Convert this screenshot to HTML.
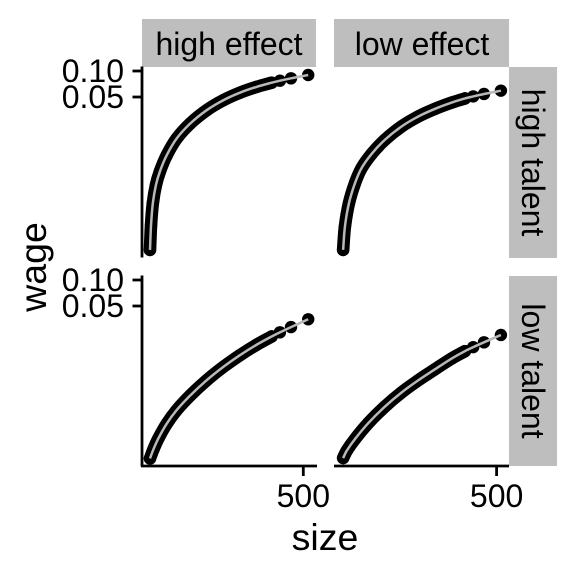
<!DOCTYPE html>
<html>
<head>
<meta charset="utf-8">
<title>Wage by size, talent and effect</title>
<style>
html,body{margin:0;padding:0;background:#fff;}
svg{display:block;}
text{font-family:"Liberation Sans",Arial,sans-serif;fill:#000;}
</style>
</head>
<body>
<svg id="chart" xmlns="http://www.w3.org/2000/svg" width="576" height="576" viewBox="0 0 576 576">
  <rect x="0" y="0" width="576" height="576" fill="#fff"/>
  <rect x="142" y="19" width="174" height="48" fill="#bebebe"/>
  <rect x="334" y="19" width="175" height="48" fill="#bebebe"/>
  <rect x="509" y="67" width="48" height="191" fill="#bebebe"/>
  <rect x="509" y="276" width="48" height="190" fill="#bebebe"/>
  <text x="229" y="55" font-size="32" text-anchor="middle">high effect</text>
  <text x="422" y="55" font-size="32" text-anchor="middle">low effect</text>
  <text transform="translate(522,162.5) rotate(90)" font-size="32" text-anchor="middle">high talent</text>
  <text transform="translate(522,371) rotate(90)" font-size="32" text-anchor="middle">low talent</text>
  <text x="325" y="550" font-size="37.5" text-anchor="middle">size</text>
  <text transform="translate(46,267) rotate(-90)" font-size="37.5" text-anchor="middle">wage</text>
  <g id="marks"></g>
  <g id="axes"></g>
</svg>
<script>
var yTickValues = [0.10, 0.05];
var yTickLabels = ["0.10", "0.05"];
var xTickValues = [500];
var xTickLabels = ["500"];

var sizeHighHigh = [516, 460, 424, 397, 348, 294, 240, 186, 132, 88, 56, 34, 21, 11, 5, 1.6];
var wageHighHigh = [0.0899, 0.0823, 0.0772, 0.0732, 0.0655, 0.0561, 0.0459, 0.0352, 0.0246, 0.0165, 0.0106, 0.0069, 0.0048, 0.00297, 0.00165, 0.00085];

var sizeLowHigh = [514, 459, 424, 397, 354, 300, 245, 191, 137, 94, 61, 40, 20, 7, 1];
var wageLowHigh = [0.0592, 0.0542, 0.0508, 0.0481, 0.0431, 0.0365, 0.0297, 0.0228, 0.0160, 0.0110, 0.00752, 0.00508, 0.00295, 0.00159, 0.00085];

var sizeHighLow = [516, 460, 424, 397, 348, 294, 240, 186, 132, 88, 56, 29, 12.5, 1.6];
var wageHighLow = [0.0351, 0.0285, 0.0248, 0.0222, 0.0178, 0.01348, 0.00987, 0.00692, 0.00459, 0.00311, 0.00217, 0.00147, 0.00109, 0.00086];

var sizeLowLow = [514, 459, 424, 397, 354, 300, 245, 191, 137, 83, 40, 13, 1];
var wageLowLow = [0.0231, 0.0190, 0.0167, 0.0150, 0.01234, 0.00928, 0.00689, 0.00499, 0.00343, 0.00221, 0.00145, 0.00106, 0.00087];

var NS = 'http://www.w3.org/2000/svg';

function xAxis(size, col) {
  return 149.5 + col * 193.3 + size * 0.3076;
}
function yAxis(wage, row) {
  return 71 + row * 209 - (Math.log(wage) / Math.LN10 + 1) * 86.4;
}
function tangent(a, b) {
  var dx = b[0] - a[0];
  var dy = b[1] - a[1];
  var len = Math.sqrt(dx * dx + dy * dy) || 1;
  return [dx / len, dy / len];
}
function smoothPath(pts) {
  var d = 'M' + pts[0][0].toFixed(2) + ' ' + pts[0][1].toFixed(2);
  for (var i = 0; i < pts.length - 1; i++) {
    var p0 = pts[Math.max(i - 1, 0)];
    var p1 = pts[i];
    var p2 = pts[i + 1];
    var p3 = pts[Math.min(i + 2, pts.length - 1)];
    var t1 = tangent(p0, p2);
    var t2 = tangent(p1, p3);
    var seg = Math.sqrt(Math.pow(p2[0] - p1[0], 2) + Math.pow(p2[1] - p1[1], 2)) / 3;
    var c1x = p1[0] + t1[0] * seg;
    var c1y = p1[1] + t1[1] * seg;
    var c2x = p2[0] - t2[0] * seg;
    var c2y = p2[1] - t2[1] * seg;
    d += 'C' + c1x.toFixed(2) + ' ' + c1y.toFixed(2) + ' ' + c2x.toFixed(2) + ' ' + c2y.toFixed(2) + ' ' + p2[0].toFixed(2) + ' ' + p2[1].toFixed(2);
  }
  return d;
}
function drawPanel(sizes, wages, col, row) {
  var marks = document.getElementById('marks');
  var pts = sizes.map(function (s, i) { return [xAxis(s, col), yAxis(wages[i], row)]; });

  var band = document.createElementNS(NS, 'path');
  
  
  band.setAttribute('d', smoothPath(pts.slice(3)));
  band.setAttribute('fill', 'none');
  band.setAttribute('stroke', '#000');
  band.setAttribute('stroke-width', '12.6');
  band.setAttribute('stroke-linecap', 'round');
  marks.appendChild(band);

  pts.forEach(function (p) {
    var c = document.createElementNS(NS, 'circle');
    
    
    c.setAttribute('cx', p[0].toFixed(2));
    c.setAttribute('cy', p[1].toFixed(2));
    c.setAttribute('r', '6.2');
    c.setAttribute('fill', '#000');
    marks.appendChild(c);
  });

  var line = document.createElementNS(NS, 'path');
  
  
  line.setAttribute('d', smoothPath(pts));
  line.setAttribute('fill', 'none');
  line.setAttribute('stroke', '#b8b8b8');
  line.setAttribute('stroke-width', '2.5');
  marks.appendChild(line);
}
function addLine(parent, name, x1, y1, x2, y2) {
  var l = document.createElementNS(NS, 'line');
  
  
  l.setAttribute('x1', x1);
  l.setAttribute('y1', y1);
  l.setAttribute('x2', x2);
  l.setAttribute('y2', y2);
  l.setAttribute('stroke', '#000');
  l.setAttribute('stroke-width', '2.8');
  parent.appendChild(l);
}
function addLabel(parent, name, x, y, anchor, str) {
  var t = document.createElementNS(NS, 'text');
  
  
  t.setAttribute('x', x);
  t.setAttribute('y', y);
  t.setAttribute('font-size', '32');
  t.setAttribute('text-anchor', anchor);
  t.textContent = str;
  parent.appendChild(t);
}
function drawAxes() {
  var axes = document.getElementById('axes');
  [0, 1].forEach(function (row) {
    var top = 67 + row * 209;
    addLine(axes, 'y-axis-line', 142, top - 0.5, 142, top + 190.5);
    yTickValues.forEach(function (v, i) {
      var y = yAxis(v, row);
      addLine(axes, 'y-axis-tick', 132.5, y, 142, y);
      addLabel(axes, 'y-tick-label', 124, y + 11.2, 'end', yTickLabels[i]);
    });
  });
  [0, 1].forEach(function (col) {
    var left = col === 0 ? 141 : 334;
    var right = col === 0 ? 317 : 509;
    addLine(axes, 'x-axis-line', left, 466, right, 466);
    xTickValues.forEach(function (v, i) {
      var x = xAxis(v, col);
      addLine(axes, 'x-axis-tick', x, 466, x, 476);
      addLabel(axes, 'x-tick-label', x, 507, 'middle', xTickLabels[i]);
    });
  });
}
drawPanel(sizeHighHigh, wageHighHigh, 0, 0);
drawPanel(sizeLowHigh, wageLowHigh, 1, 0);
drawPanel(sizeHighLow, wageHighLow, 0, 1);
drawPanel(sizeLowLow, wageLowLow, 1, 1);
drawAxes();
</script>
</body>
</html>
